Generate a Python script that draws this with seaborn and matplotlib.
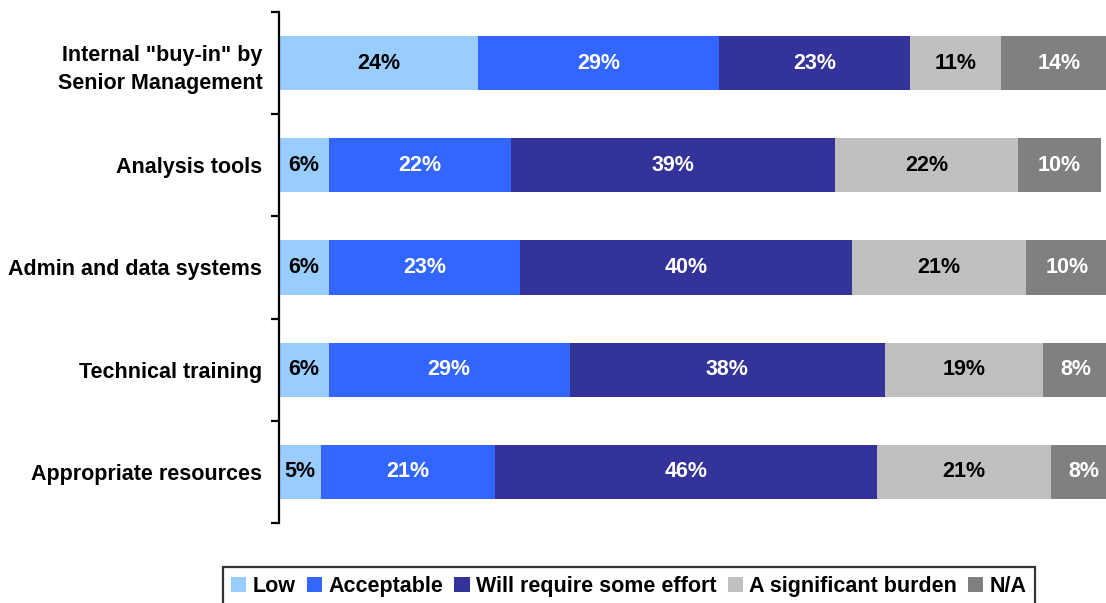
import numpy as np
import pandas as pd
import matplotlib
matplotlib.use("Agg")
import matplotlib.pyplot as plt
from matplotlib.patches import Patch
import seaborn as sns

categories = [
    'Internal "buy-in" by\nSenior Management',
    "Analysis tools",
    "Admin and data systems",
    "Technical training",
    "Appropriate resources",
]
series = ["Low", "Acceptable", "Will require some effort", "A significant burden", "N/A"]
low = [24, 6, 6, 6, 5]
acceptable = [29, 22, 23, 29, 21]
effort = [23, 39, 40, 38, 46]
burden = [11, 22, 21, 19, 21]
na = [14, 10, 10, 8, 8]

colors = ["#99CCFF", "#3366FF", "#333399", "#C0C0C0", "#808080"]
text_colors = ["black", "white", "white", "black", "white"]

sns.set_theme(style="white")
plt.rcParams["font.family"] = ["Liberation Sans", "DejaVu Sans"]
plt.rcParams["font.weight"] = "bold"
plt.rcParams["text.color"] = "black"
plt.rcParams["ytick.labelcolor"] = "black"

FS = 15.5

values = np.array([low, acceptable, effort, burden, na], dtype=float)  # series x category
cum = np.cumsum(values, axis=0)

fig = plt.figure(figsize=(11.06, 6.03), dpi=100)
ax = fig.add_axes([279 / 1106, 1 - 523 / 603, 830 / 1106, 511 / 603])

# Stacked bars: draw cumulative totals from the outermost segment inwards
for i in range(len(series) - 1, -1, -1):
    df = pd.DataFrame({"category": categories, "total": cum[i]})
    sns.barplot(data=df, x="total", y="category", orient="h", color=colors[i],
                width=0.53, saturation=1, ax=ax, linewidth=0)

# Segment value labels
for i in range(len(series)):
    starts = cum[i] - values[i]
    for j in range(len(categories)):
        ax.text(starts[j] + values[i][j] / 2, j, f"{values[i][j]:.0f}%",
                ha="center", va="center", color=text_colors[i],
                fontsize=FS, fontweight="bold")

ax.set_xlim(0, 100)
ax.set_ylim(len(categories) - 0.5, -0.5)
ax.set_xlabel("")
ax.set_ylabel("")
ax.set_xticks([])

# Tick marks at category boundaries, labels at category centres
ax.set_yticks(np.arange(len(categories) + 1) - 0.5)
ax.set_yticklabels([])
ax.set_yticks(np.arange(len(categories)), minor=True)
ax.set_yticklabels(categories, minor=True, fontsize=FS, fontweight="bold",
                   color="black", linespacing=1.45)
ax.tick_params(axis="y", which="major", length=5.5, width=1.6, color="black", left=True)
ax.tick_params(axis="y", which="minor", length=0, pad=12)

for s in ["top", "right", "bottom"]:
    ax.spines[s].set_visible(False)
ax.spines["left"].set_color("black")
ax.spines["left"].set_linewidth(1.6)

handles = [Patch(facecolor=c, edgecolor="none", label=s) for c, s in zip(colors, series)]
leg = fig.legend(handles=handles, loc="upper center", bbox_to_anchor=(629 / 1106, 1 - 567 / 603),
                 ncol=5, frameon=True, fancybox=False, edgecolor="black",
                 prop={"size": FS, "weight": "bold"}, handlelength=0.7, handleheight=0.7,
                 handletextpad=0.3, columnspacing=0.52, borderpad=0.4, borderaxespad=0)
leg.get_frame().set_linewidth(1.6)
for t in leg.get_texts():
    t.set_color("black")

fig.savefig("out.png", dpi=100)
